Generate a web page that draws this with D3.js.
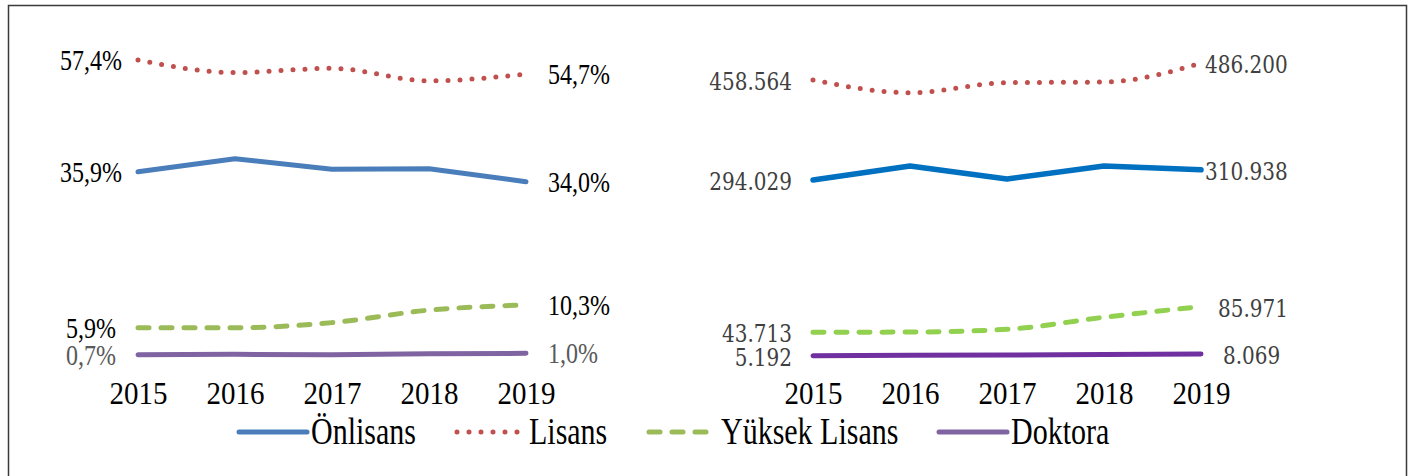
<!DOCTYPE html>
<html>
<head>
<meta charset="utf-8">
<script src="https://cdn.jsdelivr.net/npm/d3@7"></script>
<style>
  body { margin: 0; background: #fff; }
  svg { display: block; }
</style>
</head>
<body>
<div id="chart"></div>
<script>
const years = [2015, 2016, 2017, 2018, 2019];
const seriesNames = ["Önlisans", "Lisans", "Yüksek Lisans", "Doktora"];

// shares of students (%)
const pctOnlisans = [35.9, 38.4, 36.4, 36.5, 34.0];
const pctLisans = [57.4, 55.0, 55.8, 53.4, 54.7];
const pctYuksek = [5.9, 5.9, 6.9, 9.3, 10.3];
const pctDoktora = [0.7, 0.8, 0.7, 0.9, 1.0];

// number of students
const cntOnlisans = [294029, 317200, 295800, 317200, 310938];
const cntLisans = [458564, 437700, 454200, 455300, 486200];
const cntYuksek = [43713, 44000, 48500, 68300, 85971];
const cntDoktora = [5192, 5900, 6300, 7100, 8069];

const W = 1410, H = 476;
const svg = d3.select("#chart").append("svg")
  .attr("width", W)
  .attr("height", H);

svg.append("rect")
  .attr("x", 8.5).attr("y", 5.5)
  .attr("width", 1398).attr("height", 490)
  .attr("fill", "none")
  .attr("stroke", "#3a3a3a")
  .attr("stroke-width", 1.5);

const dashes = [null, "0 12", "11 12", null];
const curves = [d3.curveLinear, d3.curveMonotoneX, d3.curveMonotoneX, d3.curveLinear];

const fmtPct = v => d3.format(".1f")(v).replace(".", ",") + "%";
const trLocale = d3.formatLocale({decimal: ",", thousands: ".", grouping: [3], currency: ["", ""]});
const fmtCnt = trLocale.format(",d");

function drawPanel(opts) {
  const g = svg.append("g");
  const x = d3.scalePoint().domain(years).range(opts.xRange);
  const y = d3.scaleLinear().domain(opts.yDomain).range(opts.yRange);

  // year axis
  const ax = g.append("g")
    .attr("transform", "translate(0,403.5)")
    .call(d3.axisBottom(x).tickSize(0));
  ax.select(".domain").remove();
  ax.selectAll("text")
    .attr("y", 0).attr("dy", 0)
    .attr("transform", "scale(1,1.1)")
    .attr("fill", "#000")
    .style("font-family", "'Liberation Serif', 'Times New Roman', serif")
    .style("font-size", "29px");

  opts.series.forEach((vals, i) => {
    const line = d3.line()
      .x((d, j) => x(years[j]))
      .y(d => y(d))
      .curve(curves[i]);
    g.append("path")
      .datum(vals)
      .attr("d", line)
      .attr("fill", "none")
      .attr("stroke", opts.colors[i])
      .attr("stroke-width", opts.widths[i])
      .attr("stroke-linecap", "round")
      .attr("stroke-linejoin", "round")
      .attr("stroke-dasharray", dashes[i]);

    const first = vals[0], last = vals[vals.length - 1];
    const lbl = [
      {v: first, x: x(years[0]) + opts.startDx[i], anchor: "end"},
      {v: last, x: x(years[years.length - 1]) + opts.endDx[i], anchor: "start"}
    ];
    g.selectAll(null).data(lbl).enter().append("text")
      .attr("transform", d => `translate(${d.x},${y(d.v) + opts.baseDy}) scale(1,${opts.sy})`)
      .attr("text-anchor", d => d.anchor)
      .attr("fill", opts.labelColors[i])
      .style("font-family", opts.font)
      .style("font-size", opts.fontSize)
      .text(d => opts.fmt(d.v));
  });
}

drawPanel({
  xRange: [138, 526],
  yDomain: [0, 60],
  yRange: [358.5, 358.5 - 60 * 5.2],
  series: [pctOnlisans, pctLisans, pctYuksek, pctDoktora],
  colors: ["#4a7ebb", "#c0504d", "#9bbb59", "#8064a2"],
  widths: [5, 5, 5, 5],
  labelColors: ["#000", "#000", "#000", "#595959"],
  startDx: [-16, -16, -22, -22],
  endDx: [22, 22, 22, 22],
  baseDy: 10,
  sy: 1.2,
  font: "'Liberation Serif', 'Times New Roman', serif",
  fontSize: "24px",
  fmt: fmtPct
});

drawPanel({
  xRange: [813, 1201],
  yDomain: [0, 500000],
  yRange: [358.8, 358.8 - 500000 / 1645],
  series: [cntOnlisans, cntLisans, cntYuksek, cntDoktora],
  colors: ["#0070c0", "#c0504d", "#92d050", "#7030a0"],
  widths: [5.5, 5, 5, 5],
  labelColors: ["#404040", "#404040", "#404040", "#404040"],
  startDx: [-21, -21, -21, -21],
  endDx: [4, 4, 17, 22],
  baseDy: 10,
  sy: 1.2,
  font: "'DejaVu Serif', serif",
  fontSize: "20px",
  fmt: fmtCnt
});

// legend
const legendColors = ["#4a7ebb", "#c0504d", "#9bbb59", "#8064a2"];
const legendX = [237, 455, 647, 937];
const legend = svg.append("g").attr("transform", "translate(0,432)");
seriesNames.forEach((name, i) => {
  const item = legend.append("g").attr("transform", `translate(${legendX[i]},0)`);
  item.append("line")
    .attr("x1", 2).attr("x2", 70)
    .attr("y1", 0).attr("y2", 0)
    .attr("stroke", legendColors[i])
    .attr("stroke-width", 5)
    .attr("stroke-linecap", "round")
    .attr("stroke-dasharray", dashes[i]);
  item.append("text")
    .attr("transform", "translate(74,11.5) scale(1,1.25)")
    .attr("fill", "#000")
    .style("font-family", "'Liberation Serif', 'Times New Roman', serif")
    .style("font-size", "30px")
    .text(name);
});
</script>
</body>
</html>
